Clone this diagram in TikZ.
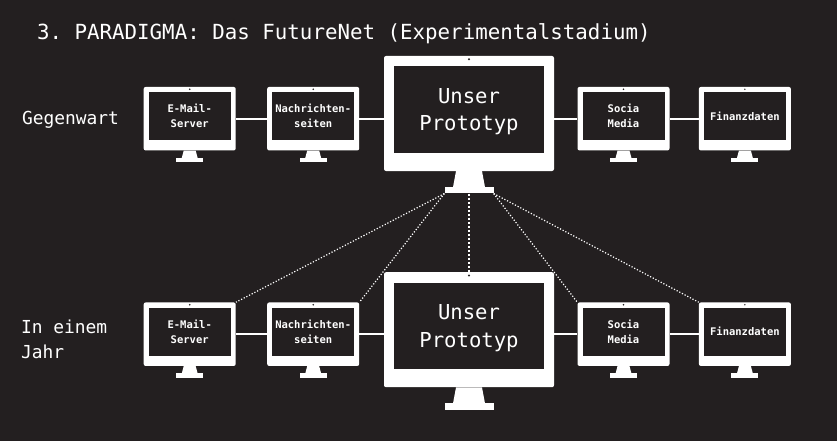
\documentclass[tikz,border=0pt]{standalone}
\usepackage{fontspec}
\setmonofont{DejaVu Sans Mono}
\definecolor{board}{RGB}{35,31,32}
\usetikzlibrary{calc}

\begin{document}
\begin{tikzpicture}[x=1pt, y=-1pt, font=\ttfamily,
    frame/.style={rectangle, fill=white, rounded corners=2pt, inner sep=0},
    screen/.style={rectangle, fill=board, inner sep=0, text=white, align=center},
    foot/.style={rectangle, fill=white, inner sep=0},
    wire/.style={draw=white, line width=2.2pt},
    link/.style={draw=white, line width=1.2pt, dash pattern=on 1.2pt off 1.8pt}]

        \fill[board] (0,0) rectangle (837,441);

        \node (title) [anchor = base west, text = white, font = \ttfamily\fontsize{20.8}{25}\selectfont] at (33.5, 39.3) {3. PARADIGMA: Das FutureNet (Experimentalstadium)};
        \node (now) [anchor = base west, text = white, font = \ttfamily\fontsize{17.9}{22}\selectfont] at (18.5, 124.3) {Gegenwart};
        \node (later) [anchor = base west, text = white, font = \ttfamily\fontsize{17.9}{22}\selectfont] at (17.5, 333.3) {In einem};
        \node (year) [anchor = base west, text = white, font = \ttfamily\fontsize{17.9}{22}\selectfont] at (17.5, 358.7) {Jahr};

        \foreach \n/\x/\y/\t in {mailA/189.7/118.7/{E-Mail-\\Server}, newsA/313.2/118.7/{Nachrichten-\\seiten}, socA/623.5/118.7/{Socia\\Media}, finA/744.9/118.7/{Finanzdaten},
                                 mailB/189.7/334.2/{E-Mail-\\Server}, newsB/313.2/334.2/{Nachrichten-\\seiten}, socB/623.5/334.2/{Socia\\Media}, finB/744.9/334.2/{Finanzdaten}}
        {
            \node (\n) [frame, minimum width = 92, minimum height = 63.5] at (\x, \y) {};
            \node (\n-screen) [screen, minimum width = 82, minimum height = 47.8, font = \ttfamily\bfseries\fontsize{10.5}{15}\selectfont] at ([yshift = 2.6pt]\n.center) {\t};
            \fill[board] ([yshift = -2.5pt]\n.north) circle (0.8);
            \fill[white] ([xshift = -6pt]\n.south) -- ([xshift = 6pt]\n.south) -- ([xshift = 8pt, yshift = -7.5pt]\n.south) -- ([xshift = -8pt, yshift = -7.5pt]\n.south) -- cycle;
            \node (\n-foot) [foot, minimum width = 27, minimum height = 4.5, anchor = north] at ([yshift = -7pt]\n.south) {};
        }

        \foreach \n/\x/\y in {bigA/469/113.5, bigB/469/329.7}
        {
            \node (\n) [frame, minimum width = 170, minimum height = 115] at (\x, \y) {};
            \node (\n-screen) [screen, minimum width = 150, minimum height = 86, text depth = 0pt, font = \ttfamily\fontsize{20.6}{27.7}\selectfont] at ([yshift = 4pt]\n.center) {Unser\\Prototyp};
            \fill[board] ([yshift = -3.5pt]\n.north) circle (1.1);
            \fill[white] ([xshift = -13pt]\n.south) -- ([xshift = 13pt]\n.south) -- ([xshift = 16pt, yshift = -16pt]\n.south) -- ([xshift = -16pt, yshift = -16pt]\n.south) -- cycle;
            \node (\n-foot) [foot, minimum width = 49, minimum height = 6.5, anchor = north] at ([yshift = -15.5pt]\n.south) {};
        }

        \draw[wire] (mailA.east) -- (newsA.west);
        \draw[wire] (newsA.east) -- (newsA.east -| bigA.west);
        \draw[wire] (socA.west -| bigA.east) -- (socA.west);
        \draw[wire] (socA.east) -- (finA.west);
        \draw[wire] (mailB.east) -- (newsB.west);
        \draw[wire] (newsB.east) -- (newsB.east -| bigB.west);
        \draw[wire] (socB.west -| bigB.east) -- (socB.west);
        \draw[wire] (socB.east) -- (finB.west);

        \draw[link] (bigA-foot.south west) -- (mailB.north east);
        \draw[link] (bigA-foot.south west) -- (newsB.north east);
        \draw[link, line width = 2.2pt, dash pattern = on 2pt off 2pt] (bigA-foot.south) -- (bigB.north);
        \draw[link] (bigA-foot.south east) -- (socB.north west);
        \draw[link] (bigA-foot.south east) -- (finB.north west);
    \end{tikzpicture}
\end{document}
